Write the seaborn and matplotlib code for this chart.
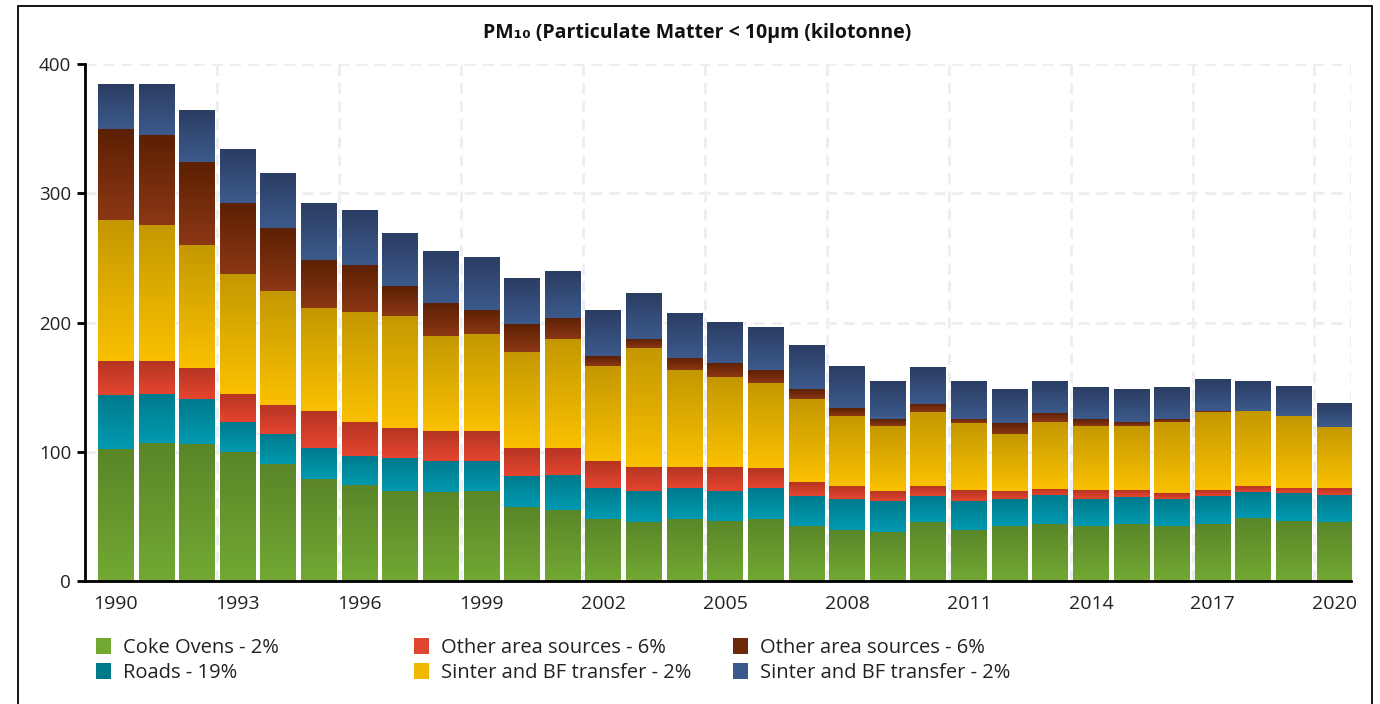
import numpy as np
import pandas as pd
import matplotlib
matplotlib.use("Agg")
import matplotlib.pyplot as plt
from matplotlib.colors import LinearSegmentedColormap
from matplotlib.patches import Patch, Rectangle
import seaborn as sns

# ---------- data (kilotonne) ----------
years = list(range(1990, 2021))

coke_ovens = [102, 107, 106, 100, 90.4, 78.7, 74, 70, 69, 70, 57, 55.2, 48, 45.9, 48, 46.4,
              48, 42.8, 39.7, 38.2, 45.9, 39.7, 42.8, 44.4, 42.8, 44.4, 42.8, 44.4, 49, 46.4, 45.9]
roads = [42, 38, 35, 23, 23.6, 24, 22.5, 25, 23.8, 22.8, 24, 26.8, 24, 23.7, 24, 23.2,
         24, 23, 23.7, 23.7, 19.9, 22.2, 20.6, 22.1, 20.6, 20.6, 20.6, 21.4, 19.9, 21.6, 20.6]
other_area_1 = [26, 25, 24, 22, 22, 28.8, 26.5, 23, 23.2, 23.2, 21.7, 21, 20.8, 18.6, 16.2, 18.6,
                15.4, 10.8, 10.1, 7.7, 7.7, 8.5, 6.2, 4.7, 7, 5.4, 4.6, 4.6, 4.6, 4, 5.5]
sinter_1 = [109, 105.5, 95, 92.6, 88, 79.5, 85, 87, 73.6, 75, 74.3, 84, 73.5, 91.8, 74.8, 69.6,
            65.8, 64.2, 54.2, 50.3, 57.3, 51.8, 44.1, 51.8, 49.6, 49.6, 55, 60.4, 58, 55.7, 47.2]
other_area_2 = [71, 69.5, 64, 54.9, 49, 37, 36.5, 23, 25.4, 18.6, 21.7, 16.5, 7.7, 7, 9.5, 10.9,
                10, 7.7, 6.1, 5.4, 6.2, 3.1, 8.5, 7, 5.3, 3, 2.3, 0.7, 0, 0, 0]
sinter_2 = [34.5, 38.7, 39.7, 41.1, 42, 43.7, 42.5, 41, 40, 40.4, 34.9, 36.3, 35, 35, 34.1, 31.7,
            32.5, 33.3, 31.8, 28.7, 28.6, 28.7, 25.6, 24, 24, 24.8, 24, 24, 22.5, 23.2, 17.8]

series_labels = ["Coke Ovens - 2%", "Roads - 19%", "Other area sources - 6%",
                 "Sinter and BF transfer - 2%", "Other area sources - 6%",
                 "Sinter and BF transfer - 2%"]
year_labels = ["1990", "1993", "1996", "1999", "2002", "2005", "2008", "2011", "2014", "2017", "2020"]

# ---------- styles ----------
# (bottom colour, top colour) of each vertical gradient, plus legend colour
grad_colors = [("#72a833", "#5a8628"), ("#009ab0", "#007a8c"), ("#e44530", "#b53522"),
               ("#fac000", "#c49800"), ("#8c3714", "#5c2003"), ("#3c5a8c", "#2b3d63")]
legend_colors = ["#70a832", "#007a8a", "#e0452f", "#f2b800", "#6c2a0c", "#3b5a8c"]

sns.set_style("white")
plt.rcParams["font.family"] = ["Open Sans", "DejaVu Sans"]


def main():
    fig = plt.figure(figsize=(13.8, 7.04), dpi=100)
    ax = fig.add_axes([85 / 1380, 1 - 581 / 704, (1351 - 85) / 1380, (581 - 64) / 704])

    layers = [coke_ovens, roads, other_area_1, sinter_1, other_area_2, sinter_2]
    bottom = np.zeros(len(years))
    for vals, (c_lo, c_hi) in zip(layers, grad_colors):
        df = pd.DataFrame({"year": [str(y) for y in years], "value": vals})
        n_before = len(ax.patches)
        sns.barplot(data=df, x="year", y="value", width=0.886, bottom=bottom.copy(),
                    color=c_lo, ax=ax, errorbar=None, linewidth=0, zorder=2)
        cmap = LinearSegmentedColormap.from_list("g", [c_lo, c_hi])
        grad = np.linspace(0, 1, 64).reshape(-1, 1)
        for p in ax.patches[n_before:]:
            x0, y0 = p.get_xy()
            w, h = p.get_width(), p.get_height()
            p.set_visible(False)
            if h <= 0:
                continue
            ax.imshow(grad, extent=(x0, x0 + w, y0, y0 + h), origin="lower", cmap=cmap,
                      aspect="auto", interpolation="bilinear", zorder=2)
        bottom += np.array(vals)

    x_left, x_right = -0.76, 30.40
    ax.set_xlim(x_left, x_right)
    ax.set_ylim(0, 400)

    # axes / ticks
    major = [x_left] + [i - 0.5 for i in range(3, 31, 3)] + [x_right]
    ax.set_xticks(major)
    ax.set_xticklabels([""] * len(major))
    ax.set_xticks(list(range(0, 31, 3)), minor=True)
    ax.set_xticklabels(year_labels, minor=True)
    ax.tick_params(axis="x", which="major", length=6, width=2, color="black", direction="out")
    ax.tick_params(axis="x", which="minor", length=0, pad=10, labelsize=14, labelcolor="#222222")
    ax.set_yticks([0, 100, 200, 300, 400])
    ax.tick_params(axis="y", length=6, width=2, color="black", pad=4, labelsize=13.5,
                   labelcolor="#222222", left=True)
    ax.set_xlabel("")
    ax.set_ylabel("")

    for side in ["top", "right"]:
        ax.spines[side].set_visible(False)
    for side in ["left", "bottom"]:
        ax.spines[side].set_color("black")
        ax.spines[side].set_linewidth(2)
        ax.spines[side].set_zorder(5)

    # dashed grid
    for yv in [100, 200, 300, 400]:
        ax.axhline(yv, color="#eceef2", lw=2, ls=(0, (4, 2.5)), zorder=0)
    for xv in major[1:]:
        ax.axvline(xv, color="#eceef2", lw=2, ls=(0, (4, 2.5)), zorder=0)

    # title
    fig.text(0.505, 1 - 33 / 704, "PM₁₀ (Particulate Matter < 10µm (kilotonne)",
             ha="center", va="center", fontsize=14, fontweight="bold", color="#111111")

    # legend: three columns, two rows each
    handles = [Patch(facecolor=c, edgecolor="none") for c in legend_colors]
    col_x = [96, 414, 733]
    for k, cx in enumerate(col_x):
        fig.legend(handles[2 * k:2 * k + 2], series_labels[2 * k:2 * k + 2],
                   loc="upper left", bbox_to_anchor=(cx / 1380, 1 - 638 / 704),
                   frameon=False, fontsize=14.5, handlelength=0.72, handleheight=0.8,
                   handletextpad=0.62, labelspacing=0.25, borderpad=0, borderaxespad=0,
                   labelcolor="#222222")

    # outer frame
    fig.patches.append(Rectangle((18 / 1380, -0.1), (1372 - 18) / 1380, 1.1 - 6 / 704,
                                 transform=fig.transFigure, fill=False, ec="black", lw=1.3))

    fig.savefig("out.png", dpi=100)


if __name__ == "__main__":
    main()
